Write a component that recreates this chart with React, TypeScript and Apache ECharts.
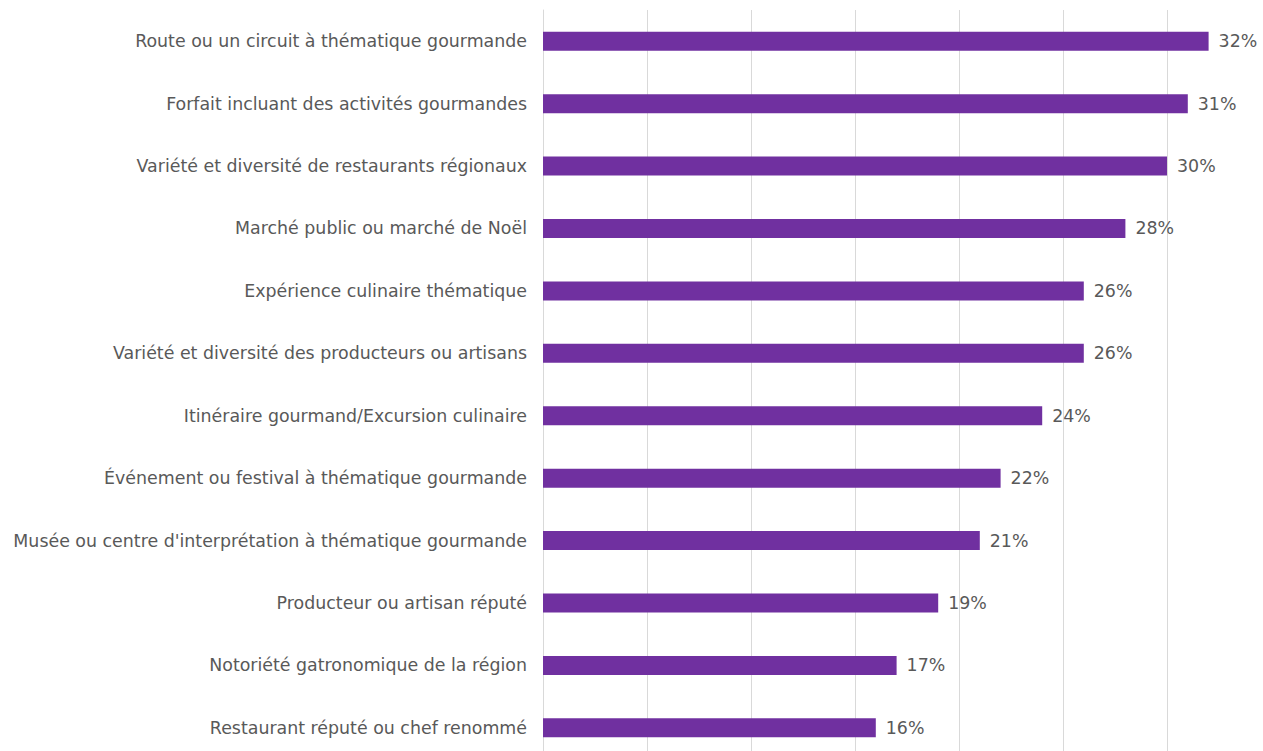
import React, { useEffect, useRef } from "react";
import * as echarts from "echarts";

const categories = [
  "Route ou un circuit à thématique gourmande",
  "Forfait incluant des activités gourmandes",
  "Variété et diversité de restaurants régionaux",
  "Marché public ou marché de Noël",
  "Expérience culinaire thématique",
  "Variété et diversité des producteurs ou artisans",
  "Itinéraire gourmand/Excursion culinaire",
  "Événement ou festival à thématique gourmande",
  "Musée ou centre d'interprétation à thématique gourmande",
  "Producteur ou artisan réputé",
  "Notoriété gatronomique de la région",
  "Restaurant réputé ou chef renommé",
];
const values = [32, 31, 30, 28, 26, 26, 24, 22, 21, 19, 17, 16];

export default function App() {
  const ref = useRef<HTMLDivElement>(null);
  useEffect(() => {
    if (!ref.current) return;
    const chart = echarts.init(ref.current, undefined, { renderer: "svg" });
    chart.setOption({
      animation: false,
      backgroundColor: "#ffffff",
      grid: { left: 543, right: 0, top: 10, bottom: 0, containLabel: false },
      xAxis: {
        type: "value",
        min: 0,
        max: 35,
        interval: 5,
        axisLabel: { show: false },
        axisLine: { show: false },
        axisTick: { show: false },
        splitLine: {
          show: true,
          lineStyle: { color: "#d9d9d9", width: 1 },
        },
      },
      yAxis: {
        type: "category",
        inverse: true,
        data: categories,
        axisLine: { show: true, lineStyle: { color: "#d9d9d9", width: 1 } },
        axisTick: { show: false },
        axisLabel: {
          margin: 16,
          color: "#595959",
          fontSize: 17.4,
          fontFamily: "DejaVu Sans, Liberation Sans, Arial, sans-serif",
        },
      },
      series: [
        {
          type: "bar",
          data: values,
          barWidth: 19,
          itemStyle: { color: "#7030a0" },
          label: {
            show: true,
            position: "right",
            distance: 10,
            formatter: "{c}%",
            color: "#595959",
            fontSize: 17.4,
            fontFamily: "DejaVu Sans, Liberation Sans, Arial, sans-serif",
          },
        },
      ],
    });
    return () => chart.dispose();
  }, []);
  return (
    <div
      ref={ref}
      style={{ position: "fixed", left: 0, top: 0, width: 1271, height: 759 }}
    />
  );
}
